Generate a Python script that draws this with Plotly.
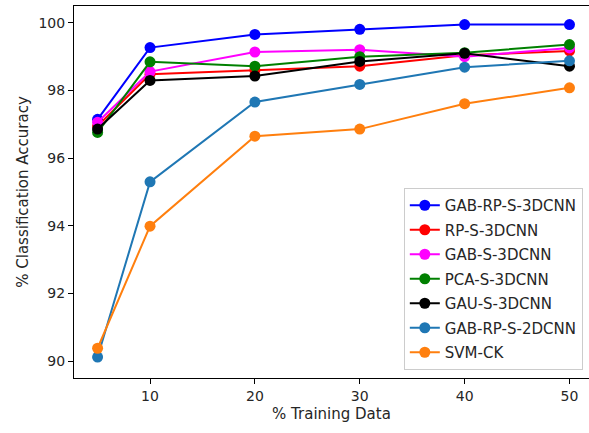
import plotly.graph_objects as go

training = [5, 10, 20, 30, 40, 50]

gab_rp_s_3dcnn = [97.15, 99.27, 99.66, 99.81, 99.95, 99.95]
rp_s_3dcnn = [96.95, 98.48, 98.6, 98.72, 99.04, 99.17]
gab_s_3dcnn = [97.06, 98.56, 99.14, 99.21, 99.0, 99.26]
pca_s_3dcnn = [96.76, 98.85, 98.72, 99.0, 99.12, 99.36]
gau_s_3dcnn = [96.86, 98.3, 98.43, 98.86, 99.1, 98.72]
gab_rp_s_2dcnn = [90.12, 95.3, 97.66, 98.18, 98.69, 98.88]
svm_ck = [90.38, 93.99, 96.65, 96.86, 97.61, 98.08]

series = [
    ("GAB-RP-S-3DCNN", gab_rp_s_3dcnn, "#0000ff"),
    ("RP-S-3DCNN", rp_s_3dcnn, "#ff0000"),
    ("GAB-S-3DCNN", gab_s_3dcnn, "#ff00ff"),
    ("PCA-S-3DCNN", pca_s_3dcnn, "#008000"),
    ("GAU-S-3DCNN", gau_s_3dcnn, "#000000"),
    ("GAB-RP-S-2DCNN", gab_rp_s_2dcnn, "#1f77b4"),
    ("SVM-CK", svm_ck, "#ff7f0e"),
]

fig = go.Figure()
for name, vals, col in series:
    fig.add_trace(go.Scatter(
        x=training, y=vals, name=name, mode="lines+markers",
        line=dict(color=col, width=2),
        marker=dict(color=col, size=11, symbol="circle"),
        legendgroup=name,
    ))

tick_font = dict(family="DejaVu Sans", size=14, color="#262626")
title_font = dict(family="DejaVu Sans", size=15, color="#262626")

fig.update_layout(
    width=589, height=433,
    margin=dict(l=74, r=0, t=6, b=55),
    paper_bgcolor="white", plot_bgcolor="white",
    font=tick_font,
    showlegend=True,
    legend=dict(
        x=0.988, y=0.0215, xanchor="right", yanchor="bottom",
        bgcolor="rgba(255,255,255,0.8)", bordercolor="#cccccc", borderwidth=1,
        font=dict(family="DejaVu Sans", size=15, color="#262626"),
        tracegroupgap=2,
        itemwidth=30,
    ),
)
fig.update_xaxes(
    range=[2.75, 51.86], tickvals=[10, 20, 30, 40, 50],
    showgrid=False, zeroline=False,
    showline=True, linecolor="black", linewidth=1, mirror=True,
    ticks="outside", ticklen=5, tickcolor="black", tickfont=tick_font,
    title=dict(text="% Training Data", font=title_font, standoff=5),
)
fig.update_yaxes(
    range=[89.5, 100.5], tickvals=[90, 92, 94, 96, 98, 100],
    showgrid=False, zeroline=False,
    showline=True, linecolor="black", linewidth=1, mirror=False,
    ticks="outside", ticklen=5, tickcolor="black", tickfont=tick_font,
    title=dict(text="% Classification Accuracy", font=title_font, standoff=6),
)

fig.write_html("out.html")
